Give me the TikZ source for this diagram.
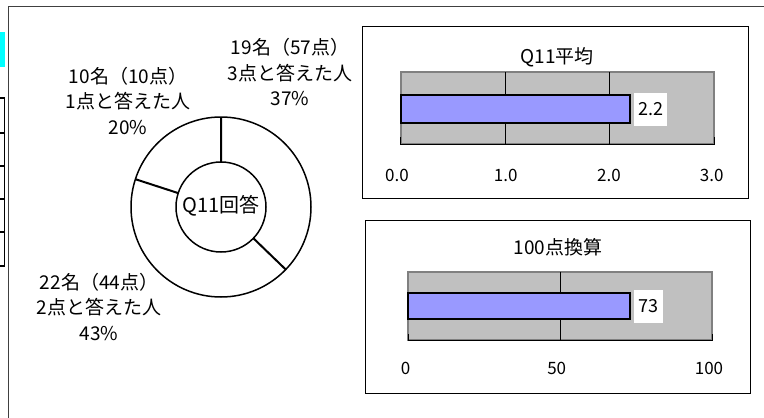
\documentclass[tikz,border=0pt]{standalone}
\usepackage{fontspec}
\setmainfont{Noto Sans CJK JP}
\usepackage{tikz}
\usetikzlibrary{positioning}
\definecolor{barblue}{HTML}{9999FF}
\definecolor{plotgray}{HTML}{C0C0C0}
\definecolor{plotedge}{HTML}{808080}
\definecolor{framegray}{HTML}{404040}
\definecolor{tabcyan}{HTML}{00FFFF}

\begin{document}
\begin{tikzpicture}[x=1pt,y=-1pt,line join=miter,
	ring/.style={draw=black,line width=1.5pt,circle,inner sep=0pt,outer sep=0pt},
	pielabel/.style={align=center,inner sep=0pt,font=\fontsize{19}{25.5}\selectfont},
	chartbox/.style={draw=black,line width=1pt},
	plotarea/.style={fill=plotgray,draw=plotedge,line width=2pt},
	gridline/.style={draw=black,line width=0.8pt},
	valbar/.style={fill=barblue,draw=black,line width=2pt},
	vallabel/.style={fill=white,inner sep=0pt,minimum height=33pt,font=\fontsize{18}{20}\selectfont},
	ticklabel/.style={inner sep=0pt,font=\fontsize{17}{19}\selectfont},
	charttitle/.style={inner sep=0pt,font=\fontsize{19}{21}\selectfont}]
	\useasboundingbox (0,0) rectangle (764,418);

	% frame and cut-off table at the left
	\draw[framegray,line width=1pt] (770,6) -- (8.3,6) -- (8.3,425);
	\fill[tabcyan] (0,32) rectangle (5,67);
	\draw[line width=1.5pt] (0,98) -- (4.3,98) -- (4.3,266) -- (0,266);
	\draw[line width=1.5pt] (0,133) -- (4.3,133) (0,166) -- (4.3,166) (0,199) -- (4.3,199) (0,232) -- (4.3,232);

	% doughnut
	\node[ring,minimum size=180pt]	(pie)						at (221,207)	{};
	\node[ring,minimum size=90pt]	(hole)						at (pie)		{};
	\node[inner sep=0pt,font=\fontsize{20}{22}\selectfont]	(q11)	at (221,206)	{Q11回答};
	\draw[line width=2pt] (hole.90) -- (pie.90) (hole.-44) -- (pie.-44) (hole.162) -- (pie.162);

	\node[pielabel]		(ans3)		at (290,72)		{19名（57点）\\3点と答えた人\\37\%};
	\node[pielabel]		(ans1)		at (128,100.5)	{10名（10点）\\1点と答えた人\\20\%};
	\node[pielabel]		(ans2)		at (99,306.5)	{22名（44点）\\2点と答えた人\\43\%};

	% mean chart
	\draw[chartbox] (362.7,26) rectangle (748,198);
	\node[charttitle]	(title1)	at (557,57)		{Q11平均};
	\draw[plotarea] (400.7,72) rectangle (714,144);
	\draw[gridline] (505.3,72) -- (505.3,144) (609.7,72) -- (609.7,144);
	\draw[line width=1pt] (400.7,137) -- (400.7,144) -- (714,144) -- (714,137);
	\draw[valbar] (400.7,95) rectangle (629.5,123);
	\node[vallabel,minimum width=33pt]	(mean)	at (650.5,109.5)	{2.2};
	\node[ticklabel]	(m0)	at (397,175)	{0.0};
	\node[ticklabel]	(m1)	at (505.7,175)	{1.0};
	\node[ticklabel]	(m2)	at (609,175)	{2.0};
	\node[ticklabel]	(m3)	at (711.7,175)	{3.0};

	% score chart
	\draw[chartbox] (365,220.7) rectangle (750,393.3);
	\node[charttitle]	(title2)	at (558,247.7)	{100点換算};
	\draw[plotarea] (408.3,271.7) rectangle (712.3,340);
	\draw[gridline] (560.3,271.7) -- (560.3,340);
	\draw[line width=1pt] (408.3,334) -- (408.3,340) -- (712.3,340) -- (712.3,334);
	\draw[valbar] (408.3,293.3) rectangle (629.5,319);
	\node[vallabel,minimum width=29pt]	(score)	at (648.3,306.3)	{73};
	\node[ticklabel]	(s0)	at (405.7,368)	{0};
	\node[ticklabel]	(s50)	at (556.7,368)	{50};
	\node[ticklabel]	(s100)	at (709,368)	{100};
\end{tikzpicture}
\end{document}
